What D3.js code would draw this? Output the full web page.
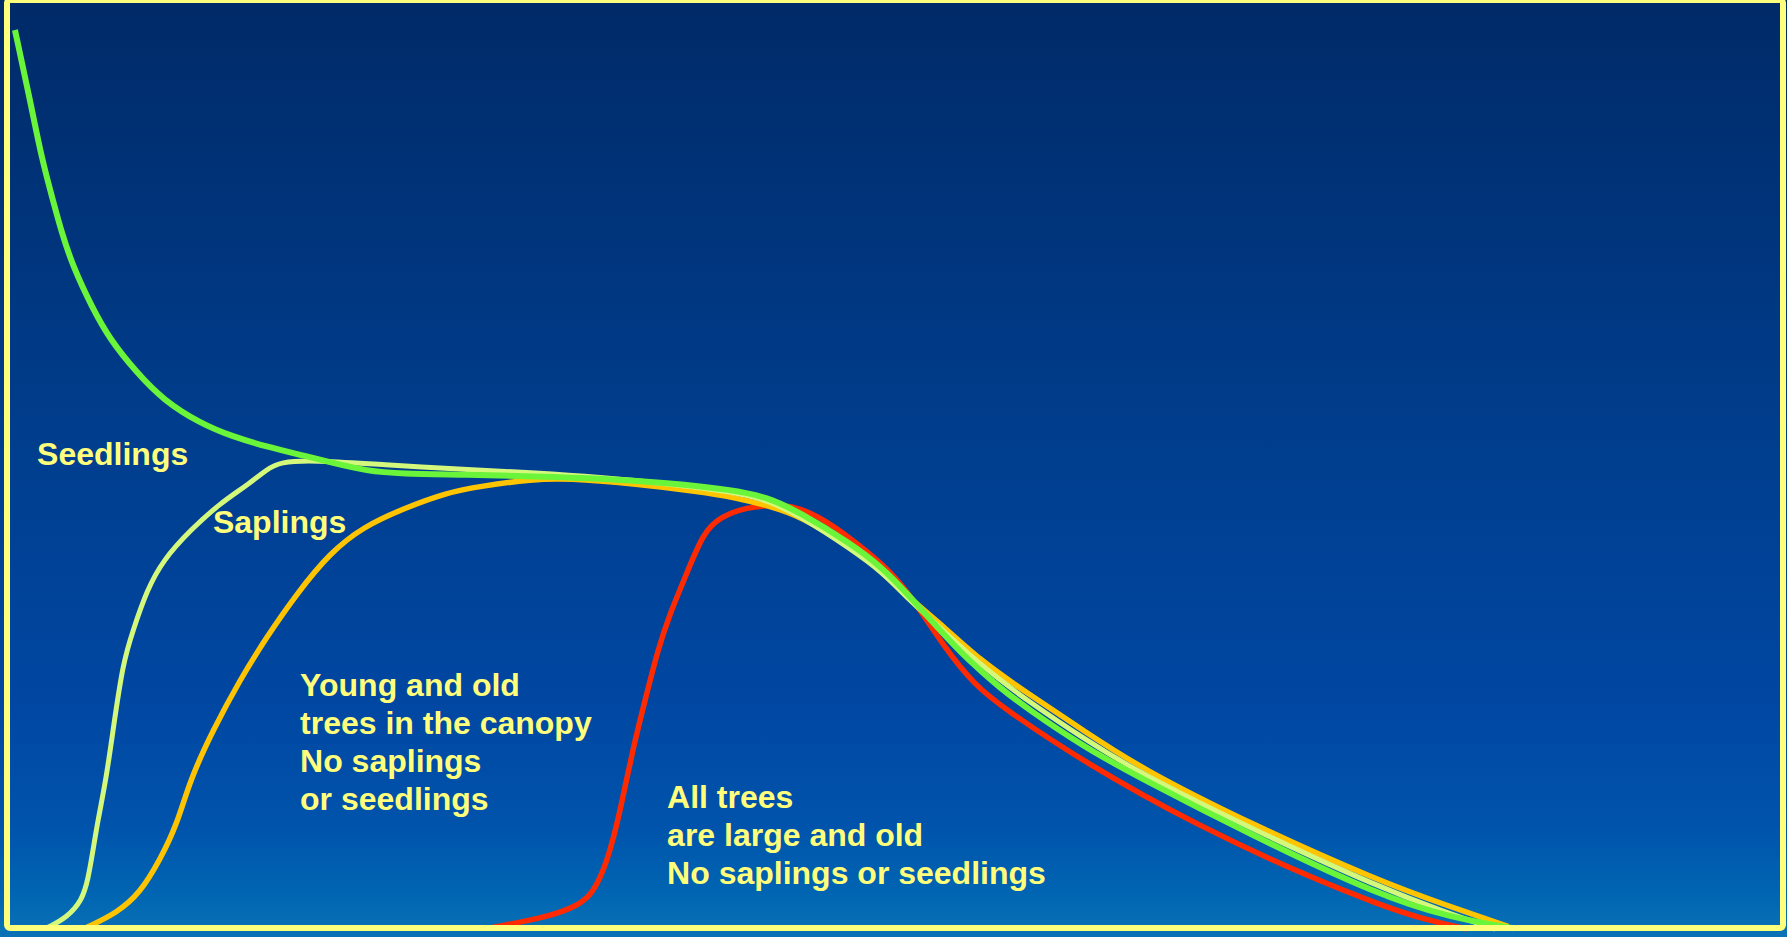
<!DOCTYPE html>
<html>
<head>
<meta charset="utf-8">
<script src="https://cdn.jsdelivr.net/npm/d3@7"></script>
<style>
  html, body { margin: 0; padding: 0; background: #003d8c; overflow: hidden; }
  svg { display: block; }
</style>
</head>
<body>
<div id="chart"></div>
<script>
// ---- Data: relative tree size/age (x, 0-100) vs relative number of trees (y, 0-100) ----
const seedlingsX = [0.83,1.67,2.33,2.94,3.44,4.06,5.11,6.11,7.61,9.06,11.11,12.94,14.83,16.67,18.5,20.39,22.22,25.94,29.61,33.33,37.06,40.72,42.61,44.44,47.22,49.06,50.39,52.22,53.89,55.56,57.0,60.17,63.33,69.67,76.67,80.56,84.06];
const seedlingsY = [100.0,92.2,85.6,81.1,77.4,73.7,69.2,65.6,61.9,58.9,56.3,54.8,53.7,52.8,51.9,51.0,50.7,50.6,50.4,50.2,49.7,48.9,48.1,46.4,43.0,40.2,37.4,33.3,29.8,26.9,24.7,20.4,16.9,10.4,3.8,1.4,0.2];

const saplingsX = [2.67,3.72,4.56,4.89,5.17,5.44,5.89,6.28,6.83,7.39,8.17,9.06,10.56,12.22,13.72,14.83,15.56,17.39,21.11,26.67,29.61,33.33,37.06,40.72,42.61,44.44,47.22,49.06,50.39,52.22,54.17,55.56,57.0,60.17,63.33,69.67,76.67,80.28,83.06];
const saplingsY = [0.3,1.4,3.3,5.6,8.9,12.2,16.7,22.2,29.7,33.3,37.8,41.1,44.4,47.4,49.4,51.2,52.0,52.2,51.7,51.1,50.8,50.3,49.6,48.7,47.8,46.0,42.4,39.7,36.9,33.6,30.0,27.8,25.6,21.3,17.4,11.1,4.7,2.0,0.1];

const canopyX = [4.83,6.5,7.78,8.89,9.83,10.56,11.83,13.33,14.83,16.5,18.33,20.17,22.5,24.83,26.67,29.61,31.5,35.17,38.89,40.72,42.94,44.44,47.22,49.06,50.56,52.5,54.44,57.0,60.17,63.33,69.67,76.67,80.28,83.78];
const canopyY = [0.3,1.9,4.1,7.8,11.7,16.7,22.2,27.8,32.6,37.4,41.9,44.8,46.9,48.6,49.3,50.1,50.2,49.6,48.7,48.1,47.0,46.0,42.6,39.8,36.8,33.6,30.0,26.4,22.2,18.0,11.6,5.4,2.8,0.4];

const oldX = [27.39,30.39,32.22,32.94,33.72,34.44,35.17,35.94,36.5,37.22,38.17,39.06,40.0,41.5,42.94,43.89,45.39,47.22,49.06,50.39,52.56,54.17,55.72,60.17,66.5,72.83,76.67,78.89,81.5];
const oldY = [0.3,1.4,2.8,4.1,7.4,13.0,20.3,26.3,30.8,35.2,39.7,44.1,45.9,47.0,47.2,47.2,46.1,43.6,40.6,37.8,31.1,27.2,24.7,18.7,11.6,5.8,2.8,1.3,0.1];

const seriesNames = ["All trees large and old", "Young and old trees in the canopy", "Saplings", "Seedlings"];
const labelTexts = {
  seedlings: ["Seedlings"],
  saplings: ["Saplings"],
  canopy: ["Young and old", "trees in the canopy", "No saplings", "or seedlings"],
  old: ["All trees", "are large and old", "No saplings or seedlings"]
};

// ---- Layout ----
const W = 1787, H = 937;
const svg = d3.select("#chart").append("svg").attr("width", W).attr("height", H);

const x = d3.scaleLinear().domain([0, 100]).range([0, 1800]);
const y = d3.scaleLinear().domain([0, 100]).range([930, 30]);

const defs = svg.append("defs");
const grad = defs.append("linearGradient").attr("id", "bg").attr("x1", 0).attr("y1", 0).attr("x2", 0).attr("y2", 1);
[[0, "#002a68"], [0.45, "#003d8c"], [0.75, "#0047a2"], [0.88, "#0053ab"], [0.95, "#0064b2"], [1, "#0a72b5"]]
  .forEach(([o, c]) => grad.append("stop").attr("offset", o).attr("stop-color", c));

svg.append("rect").attr("width", W).attr("height", H).attr("fill", "url(#bg)");

const zip = (xs, ys) => xs.map((v, i) => [v, ys[i]]);
const series = [
  { name: seriesNames[0], pts: zip(oldX, oldY), color: "#ff2a00", w: 5.5 },
  { name: seriesNames[1], pts: zip(canopyX, canopyY), color: "#ffc400", w: 5.5 },
  { name: seriesNames[2], pts: zip(saplingsX, saplingsY), color: "#d4f87c", w: 5 },
  { name: seriesNames[3], pts: zip(seedlingsX, seedlingsY), color: "#6af53a", w: 6 }
];

const line = d3.line().x(d => x(d[0])).y(d => y(d[1])).curve(d3.curveBasis);

svg.append("g").selectAll("path").data(series).join("path")
  .attr("d", d => line(d.pts))
  .attr("fill", "none")
  .attr("stroke", d => d.color)
  .attr("stroke-width", d => d.w)
  .attr("stroke-linejoin", "round")
  .attr("stroke-linecap", "butt");

// Frame
svg.append("rect")
  .attr("x", 7).attr("y", 0).attr("width", 1776).attr("height", 928)
  .attr("rx", 3)
  .attr("fill", "none").attr("stroke", "#ffff7c").attr("stroke-width", 6);

// Labels (anchored in data units)
const labels = [
  { lines: labelTexts.seedlings, at: [2.06, 51.7] },
  { lines: labelTexts.saplings, at: [11.83, 44.1] },
  { lines: labelTexts.canopy, at: [16.67, 26.0] },
  { lines: labelTexts.old, at: [37.06, 13.6] }
];
const lineGap = 38;
const tg = svg.append("g")
  .attr("font-family", "'Liberation Sans', Arial, Helvetica, sans-serif")
  .attr("font-weight", "bold")
  .attr("font-size", "32px")
  .attr("fill", "#ffff7c");
labels.forEach(l => {
  const t = tg.append("text").attr("x", x(l.at[0])).attr("y", y(l.at[1]));
  l.lines.forEach((s, i) => {
    t.append("tspan").attr("x", x(l.at[0])).attr("y", y(l.at[1]) + i * lineGap).text(s);
  });
});
</script>
</body>
</html>
